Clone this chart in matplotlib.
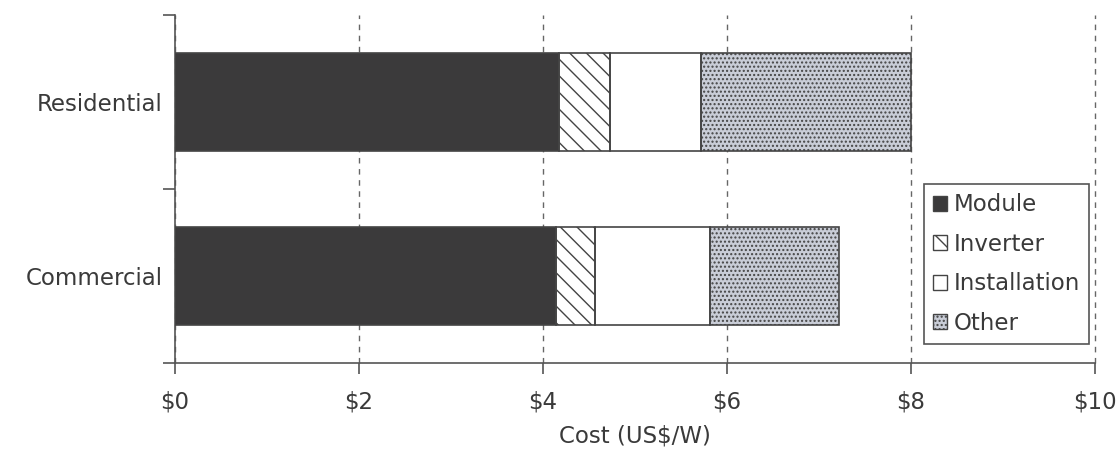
"""Stacked horizontal bars of installed PV system cost by component."""

import numpy as np
import matplotlib
matplotlib.use("Agg")
import matplotlib.pyplot as plt
from matplotlib.patches import Patch


# ---------- Cost breakdown (US$/W) ----------
sectors = ["Commercial", "Residential"]
components = ["Module", "Inverter", "Installation", "Other"]
module = [4.14, 4.17]
inverter = [0.42, 0.56]
installation = [1.26, 0.99]
other = [1.40, 2.28]
x_ticks = [0, 2, 4, 6, 8, 10]
x_tick_labels = ["$0", "$2", "$4", "$6", "$8", "$10"]
# --------------------------------------------

text_colour = "#3a3a3a"
line_colour = "#555555"
face_colours = ["#3b3a3b", "white", "white", "#c9cdd7"]
hatches = [None, "\\\\", None, "...."]

plt.rcParams["font.family"] = ["DejaVu Sans"]
plt.rcParams["hatch.linewidth"] = 1.0

fig = plt.figure(figsize=(11.19, 4.5), dpi=100)
ax = fig.add_axes([0.1564, 0.1933, 0.8222, 0.7734])

y = np.arange(len(sectors))
bar_height = 0.56
segments = [module, inverter, installation, other]
left = np.zeros(len(sectors))
for values, face, hatch in zip(segments, face_colours, hatches):
    values = np.asarray(values)
    ax.barh(y, values, left=left, height=bar_height, color=face,
            hatch=hatch, edgecolor="#444444", linewidth=0, zorder=3)
    ax.barh(y, values, left=left, height=bar_height, fill=False,
            edgecolor="#444444", linewidth=1.2, zorder=4)
    left += values

ax.set_xlim(0, 10)
ax.set_ylim(-0.5, 1.5)

ax.set_xticks(x_ticks)
ax.set_xticklabels(x_tick_labels)
ax.set_yticks(y)
ax.set_yticklabels(sectors)
ax.set_yticks([-0.5, 0.5, 1.5], minor=True)

ax.tick_params(axis="y", which="major", length=0, pad=9,
               labelsize=16.5, labelcolor=text_colour)
ax.tick_params(axis="y", which="minor", length=9, width=1.2,
               color=line_colour)
ax.tick_params(axis="x", length=8, width=1.2, color=line_colour, pad=12,
               labelsize=16.5, labelcolor=text_colour)

for side in ["top", "right"]:
    ax.spines[side].set_visible(False)
for side in ["left", "bottom"]:
    ax.spines[side].set_color(line_colour)
    ax.spines[side].set_linewidth(1.2)

ax.xaxis.grid(True, color="#666666", linestyle=(0, (4, 4)), linewidth=1.0,
              zorder=1)
for gridline in ax.get_xgridlines():
    gridline.set_clip_on(False)
ax.set_axisbelow(True)

ax.set_xlabel("Cost (US$/W)", fontsize=16.5, color=text_colour, labelpad=8)

handles = [
    Patch(facecolor=f, edgecolor="#444444", hatch=h, linewidth=1.0)
    for f, h in zip(face_colours, hatches)
]
legend = ax.legend(handles, components, loc="lower right",
                   bbox_to_anchor=(0.9935, 0.0546), borderaxespad=0,
                   fontsize=16.5, handlelength=0.6, handleheight=0.6,
                   handletextpad=0.3, labelspacing=0.72, borderpad=0.4,
                   fancybox=False, framealpha=1, labelcolor=text_colour)
legend.get_frame().set_edgecolor(line_colour)
legend.get_frame().set_linewidth(1.2)
legend.set_zorder(5)

fig.savefig("out.png", dpi=100)
